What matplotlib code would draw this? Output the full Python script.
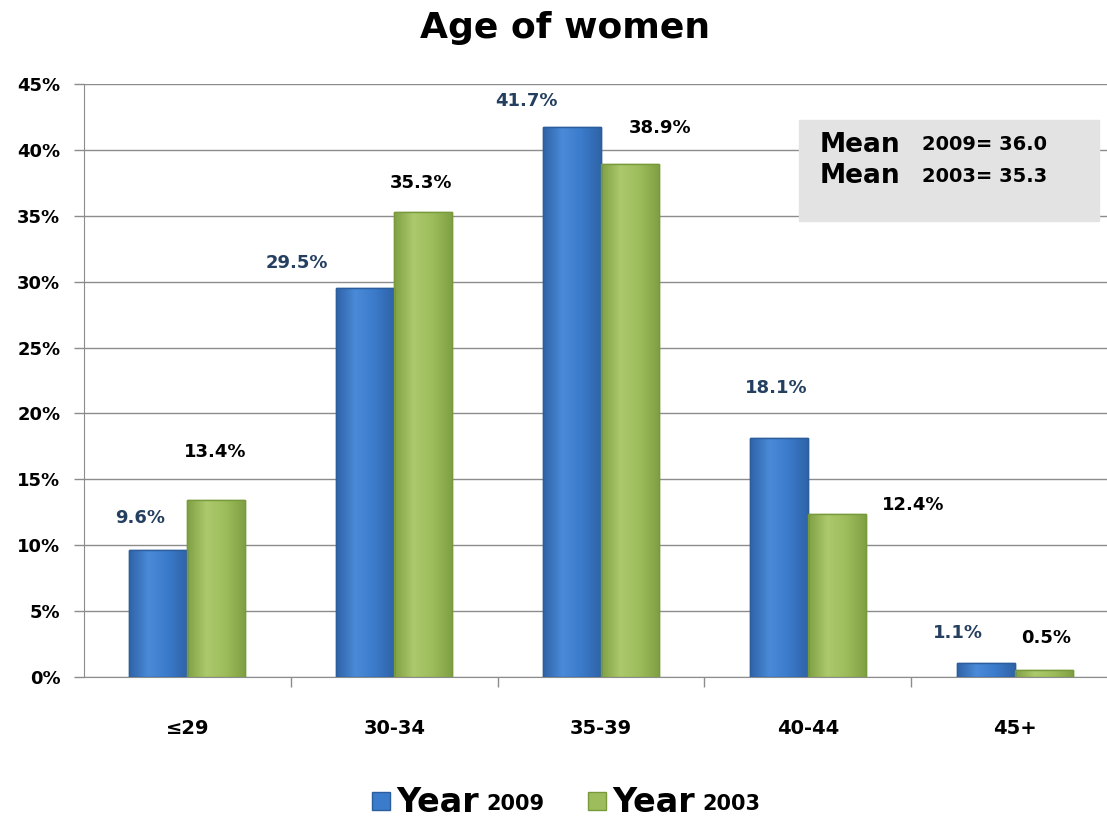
import numpy as np
import matplotlib.pyplot as plt
from matplotlib.patches import Rectangle
from matplotlib.colors import LinearSegmentedColormap

categories = ['≤29', '30-34', '35-39', '40-44', '45+']
year_2009 = [9.6, 29.5, 41.7, 18.1, 1.1]
year_2003 = [13.4, 35.3, 38.9, 12.4, 0.5]
mean_2009 = 36.0
mean_2003 = 35.3

# hand placed label offsets (pixels) like in the original sheet
off_2009 = [(-18, 32), (-68, 25), (-46, 26), (-3, 50), (-28, 30)]
off_2003 = [(-1, 48), (-2, 29), (30, 36), (76, 9), (3, 32)]

blue, blue_edge = '#3b7bcb', '#2c5d9c'
green, green_edge = '#9dbd5c', '#789a3c'
blue_cm = LinearSegmentedColormap.from_list('b', ['#2f64a8', '#4a8ad8', '#3b7bcb', '#2f64a8'])
green_cm = LinearSegmentedColormap.from_list('g', ['#80a044', '#acc96c', '#9dbd5c', '#80a044'])

fig = plt.figure(figsize=(11.07, 8.18), dpi=100)
ax = fig.add_axes([84 / 1107, 1 - 677 / 818, 1034 / 1107, (677 - 84) / 818])

x = np.arange(len(categories))
w = 0.28
b1 = ax.bar(x - w / 2, year_2009, w, color=blue, edgecolor=blue_edge, linewidth=1.0, zorder=3)
b2 = ax.bar(x + w / 2, year_2003, w, color=green, edgecolor=green_edge, linewidth=1.0, zorder=3)

# soft bevel shading inside every bar
grad = np.linspace(0, 1, 64).reshape(1, -1)
for bars, cm in [(b1, blue_cm), (b2, green_cm)]:
    for r in bars:
        x0, wd, h = r.get_x(), r.get_width(), r.get_height()
        im = ax.imshow(grad, cmap=cm, aspect='auto', extent=(x0, x0 + wd, 0, h), zorder=3.5)
        im.set_clip_path(r)
        ax.add_patch(Rectangle((x0, 0), wd, h, fill=False, edgecolor=r.get_edgecolor(),
                               linewidth=1.0, zorder=3.6))

for bars, vals, offs, col in [(b1, year_2009, off_2009, '#243f60'), (b2, year_2003, off_2003, 'black')]:
    for r, v, (dx, dy) in zip(bars, vals, offs):
        ax.annotate(f'{v:.1f}%', (r.get_x() + r.get_width() / 2, v),
                    xytext=(dx * 0.72, dy * 0.72), textcoords='offset points',
                    ha='center', va='center', fontsize=13, fontweight='bold', color=col)

ax.set_xlim(-0.5, len(categories) - 0.5)
ax.set_ylim(0, 45)
ax.set_yticks(range(0, 46, 5))
ax.set_yticklabels([f'{t}%' for t in range(0, 46, 5)], fontsize=13, fontweight='bold')
ax.set_xticks(x)
ax.set_xticklabels(categories, fontsize=14, fontweight='bold')
ax.set_xticks(np.arange(0.5, len(categories) - 0.5, 1), minor=True)
ax.tick_params(axis='x', which='major', length=0, pad=30)
ax.tick_params(axis='x', which='minor', length=7, color='#8c8c8c', width=1.0)
ax.tick_params(axis='y', length=7, color='#8c8c8c', width=1.0, pad=10)
ax.grid(axis='y', color='#8c8c8c', linewidth=1.0, zorder=0)
for s in ['top', 'right']:
    ax.spines[s].set_visible(False)
ax.spines['left'].set_color('#8c8c8c')
ax.spines['bottom'].set_color('#8c8c8c')

fig.text(565 / 1107, 1 - 28 / 818, 'Age of women', ha='center', va='center',
         fontsize=26, fontweight='bold')

# mean box
fig.patches.append(Rectangle((799 / 1107, 1 - 221 / 818), 300 / 1107, 101 / 818,
                             transform=fig.transFigure, color='#e3e3e3', zorder=5))
for i, (yr, m) in enumerate([(2009, mean_2009), (2003, mean_2003)]):
    yy = 1 - (145 + i * 31) / 818
    fig.text(820 / 1107, yy, 'Mean', fontsize=19, fontweight='bold', va='center', zorder=6)
    fig.text(922 / 1107, yy, f'{yr}= {m:.1f}', fontsize=14, fontweight='bold', va='center', zorder=6)

# legend
for xs, yr, col, ec in [(372, 2009, blue, blue_edge), (588, 2003, green, green_edge)]:
    fig.patches.append(Rectangle((xs / 1107, 1 - 810 / 818), 18 / 1107, 18 / 818,
                                 transform=fig.transFigure, facecolor=col, edgecolor=ec))
    fig.text((xs + 24) / 1107, 1 - 802 / 818, 'Year', fontsize=24, fontweight='bold', va='center')
    fig.text((xs + 114) / 1107, 1 - 804 / 818, str(yr), fontsize=15, fontweight='bold', va='center')

fig.savefig('out.png', dpi=100)
